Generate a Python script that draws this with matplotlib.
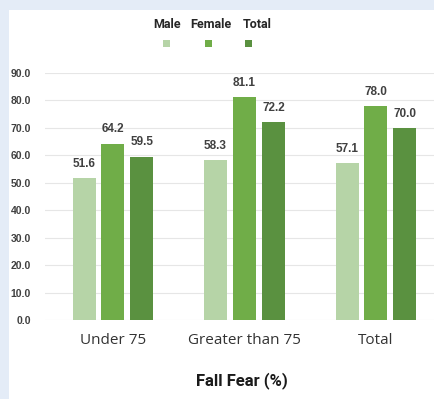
import matplotlib
matplotlib.use("Agg")
import matplotlib.pyplot as plt
import numpy as np
from matplotlib.patches import Rectangle

groups = ["Under 75", "Greater than 75", "Total"]
series_names = ["Male", "Female", "Total"]
male = [51.6, 58.3, 57.1]
female = [64.2, 81.1, 78.0]
total = [59.5, 72.2, 70.0]
y_ticks = [0, 10, 20, 30, 40, 50, 60, 70, 80, 90]

colors = ["#b6d4a7", "#70ad48", "#5a9140"]
num_font = ["Liberation Sans", "DejaVu Sans"]
txt_font = ["Open Sans", "DejaVu Sans"]
head_font = ["Roboto", "DejaVu Sans"]

fig = plt.figure(figsize=(4.35, 3.99), dpi=100)
fig.patch.set_facecolor("#e4ecf7")
fig.patches.append(Rectangle((9 / 435, 0), 1, 389 / 399, transform=fig.transFigure,
                             facecolor="white", edgecolor="none", zorder=-5))

ax = fig.add_axes([45 / 435, 1 - 320 / 399, 390 / 435, 247 / 399])
ax.set_facecolor("none")
ax.set_zorder(2)

x = np.arange(len(groups))
step = 0.22
width = 0.175
for i, (vals, col) in enumerate(zip([male, female, total], colors)):
    pos = x + (i - 1) * step
    ax.bar(pos, vals, width=width, color=col, zorder=3)
    for px, v in zip(pos, vals):
        ax.annotate(f"{v:.1f}", (px, v), textcoords="offset points", xytext=(0, 6),
                    ha="center", va="bottom", fontsize=8.5, fontweight="bold",
                    color="#404040", family=num_font)

ax.set_xlim(-0.517, 2.449)
ax.set_ylim(0, 90)
ax.set_yticks(y_ticks)
ax.set_yticklabels([f"{t:.1f}" for t in y_ticks], fontsize=7.5, fontweight="bold",
                   color="#404040", family=num_font)
ax.set_xticks(x)
ax.set_xticklabels(groups, fontsize=11, color="#333333", family=txt_font)
ax.tick_params(axis="both", length=0)
ax.tick_params(axis="x", pad=9)
ax.tick_params(axis="y", pad=10)
ax.yaxis.grid(True, color="#e6e6e6", linewidth=0.8, zorder=0)
for s in ax.spines.values():
    s.set_visible(False)

# legend: names on top, swatches underneath
text_x = [167, 211, 257]
swatch_x = [166, 208, 248]
for name, tx, sx, col in zip(series_names, text_x, swatch_x, colors):
    fig.text(tx / 435, 1 - 25 / 399, name, ha="center", va="center", fontsize=9,
             fontweight="bold", color="#262626", family=head_font)
    fig.patches.append(Rectangle(((sx - 3) / 435, 1 - 47 / 399), 7 / 435, 7 / 399,
                                 transform=fig.transFigure, facecolor=col,
                                 edgecolor="none", zorder=2))

fig.text(242 / 435, 1 - 381 / 399, "Fall Fear (%)", ha="center", va="center",
         fontsize=12, fontweight="bold", color="#1a1a1a", family=head_font)

fig.savefig("out.png", dpi=100)
